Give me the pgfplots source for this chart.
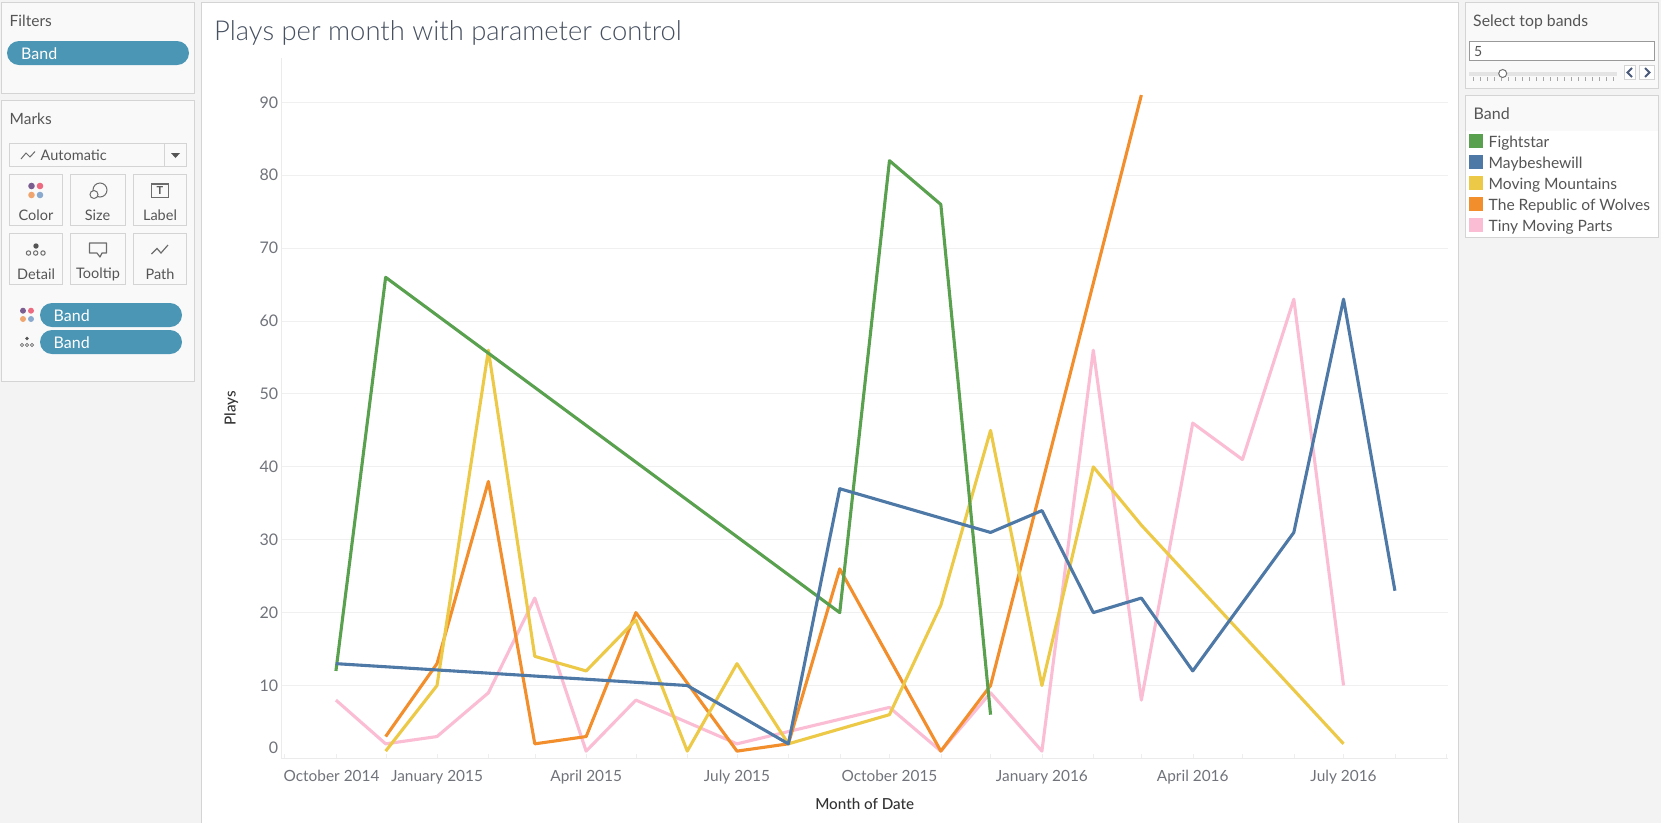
\documentclass[border=0pt]{standalone}
\usepackage{fontspec}
\setmainfont{Lato}
\newfontfamily\lightfont[UprightFont=* Light]{Lato}
\newfontfamily\medfont[UprightFont=* Medium]{Lato}
\usepackage{pgfplots}
\pgfplotsset{compat=1.18}
\definecolor{appbg}{HTML}{F3F3F3}
\definecolor{panelbg}{HTML}{F9F9F9}
\definecolor{edge}{HTML}{D4D4D4}
\definecolor{pill}{HTML}{4A96B4}
\definecolor{txt}{HTML}{555555}
\definecolor{axtxt}{HTML}{70737A}
\definecolor{axlab}{HTML}{333333}
\definecolor{titlec}{HTML}{465060}
\definecolor{axline}{HTML}{EBEBEB}
\definecolor{gridc}{HTML}{F0F0F0}
\definecolor{tickc}{HTML}{EEEEEE}
\definecolor{track}{HTML}{E4E4E4}
\definecolor{chev}{HTML}{4A5A7A}
\definecolor{dotp}{HTML}{7B5E8F}
\definecolor{dotr}{HTML}{EE6A80}
\definecolor{doto}{HTML}{F0A56E}
\definecolor{dotb}{HTML}{8AA9CF}
\definecolor{cfight}{HTML}{59A14F}
\definecolor{cmaybe}{HTML}{4E79A7}
\definecolor{cmoving}{HTML}{EDC948}
\definecolor{crepub}{HTML}{F28E2B}
\definecolor{ctiny}{HTML}{FBBDD4}
\newcommand\fs[1]{\fontsize{#1}{#1}\selectfont}
\begin{document}
\begin{tikzpicture}
% panels, 1pt = 1 reference pixel, y down
\begin{scope}[x=1pt,y=-1pt]
\useasboundingbox (0,0) rectangle (1661,823);
\fill[appbg] (0,0) rectangle (1661,823);
\tikzset{panel/.style={draw=edge,fill=panelbg,line width=1pt},
  btn/.style={draw=edge,fill=panelbg,line width=1pt},
  lab/.style={anchor=west,inner sep=0pt,text=txt},
  clab/.style={anchor=center,inner sep=0pt,text=txt},
  ic/.style={draw=gray!85!black,line width=1pt}}
\draw[panel] (1.5,2.5) rectangle (194.5,93.5);
\draw[panel] (1.5,100.5) rectangle (194.5,381.5);
\fill[white] (201.5,2.5) rectangle (1458.5,823);
\draw[edge,line width=1pt] (201.5,823) -- (201.5,2.5) -- (1458.5,2.5) -- (1458.5,823);
\draw[panel] (1465.5,2.5) rectangle (1658.5,88.5);
\draw[panel] (1465.5,95.5) rectangle (1658.5,237.5);
\fill[white] (1466,131) rectangle (1658,237);
% filters
\node[lab,font=\fs{15.5}] at (9.5,21) {Filters};
\fill[pill,rounded corners=12pt] (7,41) rectangle (189,65);
\node[anchor=west,inner sep=0pt,text=white,font=\fs{16}] at (21,53.5) {Band};
% marks
\node[lab,font=\fs{15.5}] at (9.5,119) {Marks};
\draw[btn] (9.5,143.5) rectangle (186.5,166.5);
\draw[edge,line width=1pt] (164.5,143.5) -- (164.5,166.5);
\draw[ic] (21,159) -- (26,153) -- (30,157) -- (35,151.5);
\node[lab,font=\fs{14.5}] at (40.5,155) {Automatic};
\fill[txt] (171,153) -- (180,153) -- (175.5,158) -- cycle;
\foreach \a/\b in {9.5/62.5,70.5/125.5,133.5/186.5}{
  \draw[btn] (\a,174.5) rectangle (\b,225.5);
  \draw[btn] (\a,233.5) rectangle (\b,284.5);
}
\foreach \t/\x in {Color/36,Size/97.5,Label/160}
  \node[clab,font=\fs{14.5}] at (\x,215) {\t};
\foreach \t/\x in {Detail/36,Tooltip/98,Path/160}
  \node[clab,font=\fs{14.5}] at (\x,274) {\t};
% color icon
\fill[dotp] (31.5,186) circle[radius=3.3];
\fill[dotr] (40,186) circle[radius=3.3];
\fill[doto] (31.5,195) circle[radius=3.3];
\fill[dotb] (40,195) circle[radius=3.3];
% size icon
\draw[ic] (100,190) circle[radius=7];
\draw[ic,fill=panelbg] (94,194.5) circle[radius=4];
% label icon
\draw[ic,line width=1.2pt] (151.5,184) rectangle (168.5,197.5);
\node[inner sep=0pt,text=txt,font=\fs{11}\bfseries] at (160,191) {T};
% detail icon
\fill[txt] (36,246) circle[radius=2.7];
\foreach \x in {28.5,35.7,43} \draw[ic] (\x,253) circle[radius=2.2];
% tooltip icon
\draw[ic,line width=1.2pt,line join=round] (89.5,243) -- (106.5,243) -- (106.5,253) -- (102,253) -- (100,257) -- (97,253) -- (89.5,253) -- cycle;
% path icon
\draw[ic,line width=1.2pt] (151.5,254) -- (157,248.5) -- (161,253) -- (168,245);
% pills
\fill[pill,rounded corners=12pt] (40,303) rectangle (182,327);
\fill[pill,rounded corners=12pt] (40,330) rectangle (182,354);
\node[anchor=west,inner sep=0pt,text=white,font=\fs{16}] at (53.5,315.5) {Band};
\node[anchor=west,inner sep=0pt,text=white,font=\fs{16}] at (53.5,342.5) {Band};
\fill[dotp] (23,310.7) circle[radius=3];
\fill[dotr] (31,310.7) circle[radius=3];
\fill[doto] (23,319) circle[radius=3];
\fill[dotb] (31,319) circle[radius=3];
\fill[txt] (27,338.5) circle[radius=1.9];
\foreach \x in {22,27,32} \draw[ic,line width=.7pt] (\x,345) circle[radius=1.7];
% parameter control
\node[lab,font=\fs{15.8}] at (1473,22) {Select top bands};
\draw[draw=gray!80,fill=white,line width=1pt] (1469.5,41.5) rectangle (1654.5,60.5);
\node[lab,font=\fs{14}] at (1474,51.5) {5};
\fill[track] (1469,72) rectangle (1617,76);
\foreach \i in {0,...,20} \draw[gray!70,line width=.6pt] (1473+\i*7,77) -- (1473+\i*7,81);
\draw[draw=gray!90!black,fill=white,line width=1pt] (1502.7,73.5) circle[radius=4];
\draw[edge,fill=white,line width=.8pt] (1624.5,65.5) rectangle (1635.5,79.5);
\draw[edge,fill=white,line width=.8pt] (1639.5,65.5) rectangle (1654.5,79.5);
\draw[chev,line width=2pt] (1632,68) -- (1627.5,72.5) -- (1632,77);
\draw[chev,line width=2pt] (1645,68) -- (1649.5,72.5) -- (1645,77);
% legend
\node[lab,font=\fs{16}] at (1473.5,114) {Band};
\foreach \c/\y/\t in {cfight/134/Fightstar,cmaybe/155/Maybeshewill,cmoving/176/Moving Mountains,crepub/197/The Republic of Wolves,ctiny/218/Tiny Moving Parts}{
  \fill[\c] (1469,\y) rectangle (1483,\y+14);
  \node[lab,font=\fs{15.6}] at (1488.5,\y+9) {\t};
}
% title
\node[anchor=west,inner sep=0pt,text=titlec,font=\lightfont\fs{27.4}] at (214,33) {Plays per month with parameter control};
\end{scope}
% x is days since 1 Oct 2014
\begin{axis}[
  at={(281.4pt,-758.4pt)}, anchor=south west,
  scale only axis, width=1166.6pt, height=700.5pt,
  xmin=-1.9, xmax=702, ymin=0, ymax=96.1,
  axis x line*=bottom, axis y line*=left,
  axis line style={draw=axline,-},
  xtick={0,92,182,273,365,457,548,639},
  xticklabels={\hspace*{94pt}October 2014,January 2015,April 2015,July 2015,October 2015,January 2016,April 2016,July 2016},
  minor xtick={31,61,123,151,212,243,304,335,396,426,488,517,578,609,670,701},
  ytick={0,10,...,90},
  yticklabels={\raisebox{22pt}{0},10,20,30,40,50,60,70,80,90},
  ymajorgrids, grid style={draw=gridc,line width=1pt},
  xtick align=inside, tick style={draw=tickc},
  major tick length=4pt, minor tick length=4pt,
  ytick style={draw=none},
  xticklabel style={anchor=base,yshift=-23.5pt,font=\fs{15.4},text=axtxt,inner sep=0pt},
  yticklabel style={anchor=east,xshift=-3pt,font=\fs{16},text=axtxt,inner sep=0pt},
  xlabel={Month of Date}, ylabel={Plays},
  every axis x label/.style={at={(axis description cs:0.5,0)},anchor=center,yshift=-45.5pt,font=\medfont\fs{15.2},text=axlab},
  every axis y label/.style={at={(axis description cs:-0.0429,0.5)},rotate=90,anchor=center,font=\medfont\fs{15.2},text=axlab},
  every axis plot/.append style={line width=3.1pt,line join=round,mark=none},
]
% Tiny Moving Parts
\addplot[ctiny] coordinates {(31,8)(61,2)(92,3)(123,9)(151,22)(182,1)(212,8)(273,2)(365,7)(396,1)(426,9)(457,1)(488,56)(517,8)(548,46)(578,41)(609,63)(639,10)};
% The Republic of Wolves
\addplot[crepub] coordinates {(61,3)(92,13)(123,38)(151,2)(182,3)(212,20)(273,1)(304,2)(335,26)(396,1)(426,10)(517,91)};
% Moving Mountains
\addplot[cmoving] coordinates {(61,1)(92,10)(123,56)(151,14)(182,12)(212,19)(243,1)(273,13)(304,2)(365,6)(396,21)(426,45)(457,10)(488,40)(517,32)(639,2)};
% Fightstar
\addplot[cfight] coordinates {(31,12)(61,66)(335,20)(365,82)(396,76)(426,6)};
% Maybeshewill
\addplot[cmaybe] coordinates {(31,13)(243,10)(304,2)(335,37)(426,31)(457,34)(488,20)(517,22)(548,12)(609,31)(639,63)(670,23)};
\end{axis}
\end{tikzpicture}
\end{document}
